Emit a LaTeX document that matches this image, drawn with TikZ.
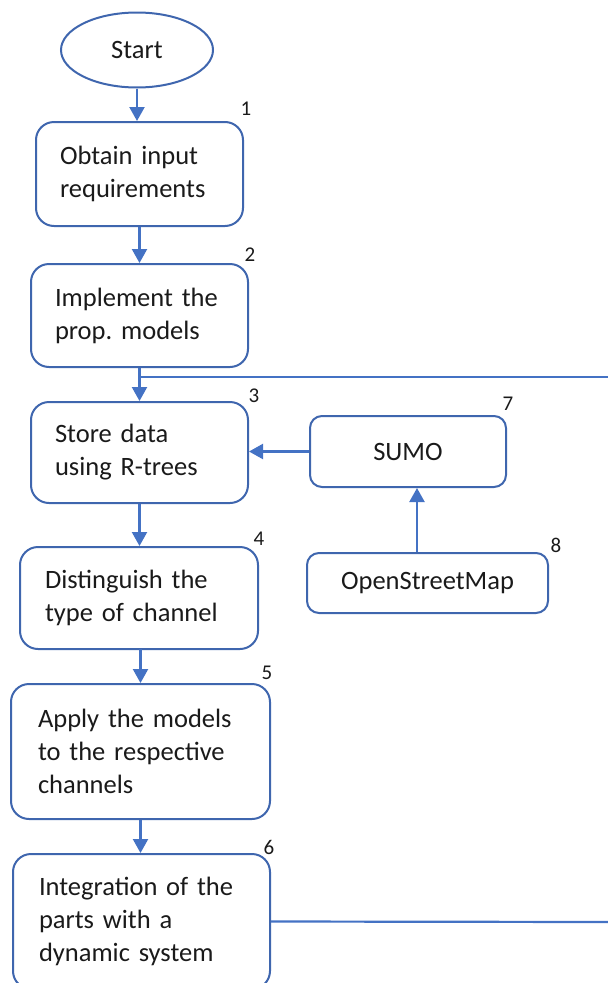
\documentclass[tikz,border=0pt]{standalone}
\usepackage{fontspec}
\setmainfont{Carlito}
\usetikzlibrary{arrows.meta,shapes.geometric}
\definecolor{flowblue}{HTML}{4472C4}
\definecolor{boxblue}{HTML}{3F66AE}
\definecolor{inkgray}{HTML}{1A1A1A}
\frenchspacing
\tikzset{
  every node/.style={text=inkgray},
  stepbox/.style={draw=boxblue, line width=2pt, rounded corners=18pt,
    align=left, inner ysep=0pt, font=\fontsize{26.5}{33}\selectfont},
  srcbox/.style={draw=boxblue, line width=2pt, rounded corners=12pt,
    align=center, font=\fontsize{26.5}{33}\selectfont},
  numlabel/.style={font=\fontsize{21}{21}\selectfont, inner sep=0pt},
  arr/.style={draw=flowblue, line width=2.2pt, -{Triangle[width=15pt,length=14pt]}},
  link/.style={draw=flowblue, line width=2.2pt}
}
\begin{document}
\begin{tikzpicture}[x=1pt, y=-1pt]
\useasboundingbox (0,0) rectangle (608,983);
\clip (0,0) rectangle (608,983);

% start terminal
\node[ellipse, draw=boxblue, line width=2pt, minimum width=152pt, minimum height=75pt,
  inner sep=0pt, font=\fontsize{26.5}{33}\selectfont] (start) at (137,50) {Start};

% process steps
\node[stepbox, minimum width=207pt, minimum height=104pt, text width=159pt, inner xsep=24pt]
  (s1) at (139.5,174) {Obtain input\\requirements};
\node[stepbox, minimum width=217pt, minimum height=103pt, text width=169pt, inner xsep=24pt]
  (s2) at (139.5,315.5) {Implement the\\prop. models};
\node[stepbox, minimum width=217pt, minimum height=101pt, text width=169pt, inner xsep=24pt]
  (s3) at (139.5,452.5) {Store data\\using R-trees};
\node[stepbox, minimum width=238pt, minimum height=102pt, text width=188pt, inner xsep=25pt]
  (s4) at (139,598) {Distinguish the\\type of channel};
\node[stepbox, minimum width=259pt, minimum height=135pt, text width=205pt, inner xsep=27pt]
  (s5) at (140.5,751.5) {Apply the models\\to the respective\\channels};
\node[stepbox, minimum width=257pt, minimum height=135pt, text width=205pt, inner xsep=26pt]
  (s6) at (141.5,921.5) {Integration of the\\parts with a\\dynamic system};

% data sources
\node[srcbox, minimum width=196pt, minimum height=71pt] (sumo) at (408,451.5) {SUMO};
\node[srcbox, minimum width=241pt, minimum height=60pt] (osm) at (427.5,583) {OpenStreetMap};

% step numbers
\node[numlabel] (n1) at (246,109) {1};
\node[numlabel] (n2) at (250,255) {2};
\node[numlabel] (n3) at (254,396) {3};
\node[numlabel] (n4) at (259,539) {4};
\node[numlabel] (n5) at (267,673) {5};
\node[numlabel] (n6) at (269,847) {6};
\node[numlabel] (n7) at (508,404) {7};
\node[numlabel] (n8) at (556,545) {8};

% main flow
\draw[arr] (start.south) -- (start.south |- s1.north);
\draw[arr] (s1.south) -- (s2.north);
\draw[arr] (s2.south) -- (s3.north);
\draw[arr] (s3.south) -- (s3.south |- s4.north);
\draw[arr] (s4.south) -- (s4.south -| s5.north) -- (s5.north);
\draw[arr] (s5.south) -- (s5.south |- s6.north);

% branch lines leaving to the right
\coordinate (j2) at (139.5,377);
\coordinate (e2) at (608,377);
\draw[link] (j2) -- (e2);
\coordinate (e6) at (608,922);
\draw[link] (s6.east) -- (e6);

% data source inputs
\draw[arr] (sumo.west) -- (sumo.west -| s3.east);
\draw[arr] ([xshift=-10.5pt]osm.north) -- ([xshift=9pt]sumo.south);
\end{tikzpicture}
\end{document}
